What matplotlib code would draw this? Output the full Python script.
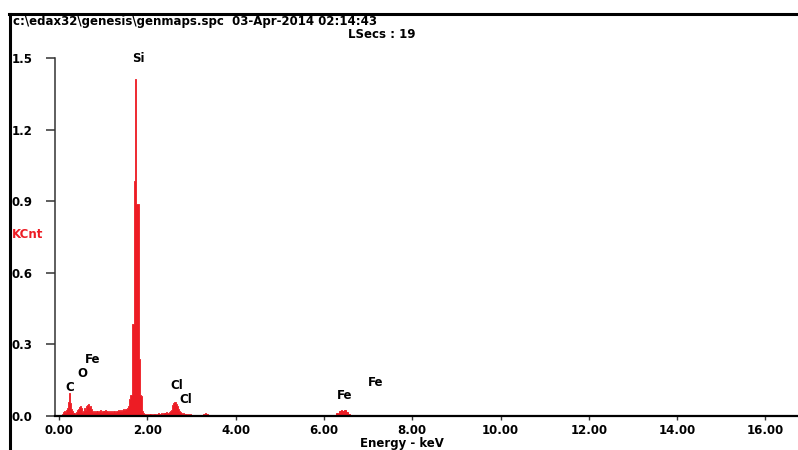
import numpy as np
import matplotlib.pyplot as plt
import matplotlib as mpl
from matplotlib import ticker
from matplotlib.lines import Line2D

RED1 = '#ED1C24'
BLACK1, GRAY1 = '#000000', '#333333'

mpl.rcParams['font.family'] = 'DejaVu Sans'
mpl.rcParams['font.weight'] = 'bold'
mpl.rcParams['font.size'] = 8.5

W, H = 798, 450

# Data: spectrum channels (0.02 keV wide) from 0.06 to 3.60 keV, counts in KCnt
e_start, e_step = 0.06, 0.02
counts = [
    0.0, .008, .015, .02, .018, .025, .022, .035, .06, .098,
    .055, .03, .02, .012, .01, .012, .01, .015, .025, .03,
    .036, .04, .035, .028, .018, .022, .035, .025, .04, .048,
    .05, .045, .038, .042, .03, .02, .015, .022, .018, .02,
    .015, .022, .018, .02, .025, .018, .02, .022, .018, .02,
    .025, .02, .022, .015, .02, .018, .02, .015, .018, .02,
    .022, .018, .02, .022, .025, .02, .022, .025, .022, .025,
    .028, .025, .03, .028, .03, .035, .04, .07, .09, .09,
    .385, .385, .385, .985, 1.41, .89, .89, .89, .24, .09,
    .085, .06, .02, .012, .01, .008, .006,
    .008, .006, .008, .005, .008, .01, .006, .008, .01, .008,
    .006, .01, .008, .012, .01, .008, .012, .01, .014, .012,
    .01, .012, .015, .012, .014, .018, .02, .025, .035, .045,
    .055, .06, .058, .05, .04, .03, .022, .018, .015, .012,
    .01, .012, .01, .008, .01, .008, .006, .008, .006, .008,
    .005, .006, .005, .006, .004, .006, .005, .004, .006, .005,
    .006, .004, .006, .005, .008, .01, .012, .01, .008, .006,
    .005, .006, .004, .005, .006, .004, .005, .004, .005, .004,
    .005,
]
energy = np.round(e_start + e_step * np.arange(len(counts)), 2)

# sparse high-energy channels
tail_e = [3.62, 3.7, 3.8, 3.9, 4.0, 4.1, 4.2, 4.3, 4.4, 4.5, 4.6, 4.7, 4.8, 5.0, 5.1,
          5.2, 5.4, 5.5, 5.6, 5.7, 5.8, 5.9, 6.0, 6.1, 6.2, 6.3, 6.36, 6.40, 6.44, 6.48,
          6.52, 6.56, 6.6, 6.7, 6.9, 7.0, 7.1, 7.2, 7.3, 7.4, 7.5, 7.6, 7.7, 7.8, 7.9,
          8.0, 8.1, 8.3, 8.5, 8.6, 8.7, 8.8, 9.3, 9.35, 10.0, 10.05, 10.3, 10.4, 10.5, 13.5]
tail_c = [.004, .005, .004, .006, .004, .005, .004, .006, .005, .004, .006, .005, .004, .006, .004,
          .005, .005, .004, .006, .004, .005, .004, .005, .004, .006, .012, .02, .025, .022, .025,
          .015, .008, .005, .004, .005, .004, .005, .004, .005, .004, .005, .004, .005, .004, .005,
          .004, .005, .004, .005, .006, .005, .004, .005, .004, .005, .006, .004, .005, .004, .005]

peaks = ['Si', 'Fe', 'O', 'C', 'Cl', 'Cl', 'Fe', 'Fe']
peak_x = [1.79, 0.77, 0.52, 0.25, 2.67, 2.88, 6.48, 7.18]
peak_y = [1.50, 0.235, 0.176, 0.12, 0.126, 0.07, 0.084, 0.142]

yticks = [0.0, 0.3, 0.6, 0.9, 1.2, 1.5]
xticks = [0, 2, 4, 6, 8, 10, 12, 14, 16]

fig = plt.figure(figsize=(W / 100, H / 100), dpi=100)
ax = fig.add_axes([55 / W, (H - 416) / H, (W - 55) / W, (416 - 58) / H])

ax.fill_between(energy, counts, step='mid', facecolor=RED1, edgecolor=RED1, linewidth=0.6)
ax.bar(tail_e, tail_c, width=0.04, color=RED1, edgecolor=RED1, linewidth=0.7)

ax.set_xlim(-4 / 44.15, (W - 59) / 44.15)
ax.set_ylim(0, 1.5)

# spines
for s in ['top', 'right']:
    ax.spines[s].set_visible(False)
ax.spines['left'].set_color(GRAY1)
ax.spines['left'].set_linewidth(1.1)
ax.spines['bottom'].set_color(BLACK1)
ax.spines['bottom'].set_linewidth(1.6)

# y axis
ax.yaxis.set_major_locator(ticker.FixedLocator(yticks))
ax.yaxis.set_major_formatter(ticker.FormatStrFormatter('%.1f'))
ax.tick_params(axis='y', length=6.5, width=1.1, color=GRAY1, pad=24.5, labelsize=8.5)
for lbl in ax.get_yticklabels():
    lbl.set_horizontalalignment('left')
    lbl.set_fontweight('bold')

# x axis
ax.xaxis.set_major_locator(ticker.FixedLocator(xticks))
ax.xaxis.set_major_formatter(ticker.FormatStrFormatter('%.2f'))
ax.tick_params(axis='x', length=3, width=1, color=GRAY1, pad=2.5, labelsize=8.5)
for lbl in ax.get_xticklabels():
    lbl.set_fontweight('bold')
ax.set_xlabel('Energy - keV', fontsize=8.5, fontweight='bold')
ax.xaxis.set_label_coords((402 - 55) / (W - 55), -0.059)

# element labels
for name, x, y in zip(peaks, peak_x, peak_y):
    ax.text(x, y, name, ha='center', va='center', fontsize=8.5, fontweight='bold', clip_on=False)

# header
fig.text(13 / W, 1 - 22 / H, r'c:\edax32\genesis\genmaps.spc  03-Apr-2014 02:14:43',
         va='center', ha='left', fontsize=8.5, fontweight='bold')
fig.text(348 / W, 1 - 34 / H, 'LSecs : 19', va='center', ha='left', fontsize=8.5, fontweight='bold')
fig.text(12 / W, 1 - 234 / H, 'KCnt', va='center', ha='left', color=RED1, fontsize=8.5, fontweight='bold')

# outer frame
fig.add_artist(Line2D([10 / W, 10 / W], [0, 1 - 14 / H], transform=fig.transFigure, lw=2.2, color=BLACK1))
fig.add_artist(Line2D([9 / W, 1], [1 - 14 / H, 1 - 14 / H], transform=fig.transFigure, lw=2.2, color=BLACK1))

fig.savefig('out.png', dpi=100)
